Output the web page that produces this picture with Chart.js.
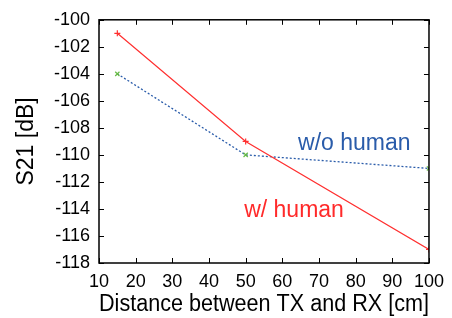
<!DOCTYPE html>
<html>
<head>
<meta charset="utf-8">
<script src="https://cdn.jsdelivr.net/npm/chart.js@4/dist/chart.umd.min.js"></script>
<style>
  html, body { margin: 0; padding: 0; background: #fff; }
  #wrap { width: 452px; height: 318px; }
</style>
</head>
<body>
<div id="wrap"><canvas id="chart" width="452" height="318"></canvas></div>
<script>
// distances [cm]
var distances = [15, 50, 100];
// S21 [dB]
var withHuman = [-101, -109, -117];
var withoutHuman = [-104, -110, -111];

var xTicks = [10, 20, 30, 40, 50, 60, 70, 80, 90, 100];
var yTicks = [-118, -116, -114, -112, -110, -108, -106, -104, -102, -100];

// text labels placed in data units
var labelWo = { text: "w/o human", x: 64.3, y: -109.2 };
var labelW = { text: "w/ human", x: 49.6, y: -114.1 };

function toPoints(xs, ys) {
  return xs.map(function (x, i) { return { x: x, y: ys[i] }; });
}

var FONT = "'Liberation Sans', Arial, sans-serif";

// draws the box and inward ticks like the gnuplot original
var frame = {
  id: "frame",
  afterDraw: function (chart) {
    var ctx = chart.ctx, a = chart.chartArea;
    var xs = chart.scales.x, ys = chart.scales.y;
    var len = 5;
    ctx.save();
    ctx.strokeStyle = "#000";
    ctx.lineWidth = 1;
    ctx.beginPath();
    xTicks.forEach(function (v) {
      var px = Math.round(xs.getPixelForValue(v)) + 0.5;
      ctx.moveTo(px, a.bottom); ctx.lineTo(px, a.bottom - len);
      ctx.moveTo(px, a.top); ctx.lineTo(px, a.top + len);
    });
    yTicks.forEach(function (v) {
      var py = Math.round(ys.getPixelForValue(v)) + 0.5;
      ctx.moveTo(a.left, py); ctx.lineTo(a.left + len, py);
      ctx.moveTo(a.right, py); ctx.lineTo(a.right - len, py);
    });
    ctx.stroke();
    ctx.lineWidth = 1.5;
    ctx.strokeRect(a.left, a.top, a.right - a.left, a.bottom - a.top);

    ctx.font = "23px " + FONT;
    ctx.textAlign = "left";
    ctx.textBaseline = "middle";
    ctx.fillStyle = "#2a5caa";
    ctx.fillText(labelWo.text, xs.getPixelForValue(labelWo.x), ys.getPixelForValue(labelWo.y));
    ctx.fillStyle = "#ff2a2a";
    ctx.fillText(labelW.text, xs.getPixelForValue(labelW.x), ys.getPixelForValue(labelW.y));
    ctx.restore();
  }
};

var ctx = document.getElementById("chart").getContext("2d");
var chart = new Chart(ctx, {
  type: "line",
  data: {
    datasets: [
      {
        label: "w/ human",
        data: toPoints(distances, withHuman),
        borderColor: "#ff3030",
        borderWidth: 1.2,
        pointStyle: "cross",
        pointRadius: 3,
        pointBorderColor: "#ff3030",
        pointBorderWidth: 1.2,
        fill: false,
        tension: 0
      },
      {
        label: "w/o human",
        data: toPoints(distances, withoutHuman),
        borderColor: "#2a5caa",
        borderWidth: 1.3,
        borderDash: [2, 2],
        pointStyle: "crossRot",
        pointRadius: 3,
        pointBorderColor: "#66bb44",
        pointBorderWidth: 1.2,
        fill: false,
        tension: 0
      }
    ]
  },
  options: {
    responsive: false,
    animation: false,
    layout: { padding: { top: 19, right: 20, left: 13, bottom: 0 } },
    plugins: { legend: { display: false }, tooltip: { enabled: false } },
    scales: {
      x: {
        type: "linear",
        min: 10, max: 100,
        afterBuildTicks: function (s) { s.ticks = xTicks.map(function (v) { return { value: v }; }); },
        afterFit: function (s) { s.height = 55; },
        grid: { display: false, drawTicks: false },
        border: { display: false },
        ticks: { color: "#000", font: { family: FONT, size: 18 }, padding: 8, maxRotation: 0, autoSkip: false },
        title: { display: true, text: "Distance between TX and RX [cm]", color: "#000",
                 font: { family: FONT, size: 23 }, padding: { top: 0, bottom: 0 } }
      },
      y: {
        type: "linear",
        min: -118, max: -100,
        afterBuildTicks: function (s) { s.ticks = yTicks.map(function (v) { return { value: v }; }); },
        afterFit: function (s) { s.width = 86; },
        grid: { display: false, drawTicks: false },
        border: { display: false },
        ticks: { color: "#000", font: { family: FONT, size: 18 }, padding: 9, autoSkip: false },
        title: { display: true, text: "S21 [dB]", color: "#000",
                 font: { family: FONT, size: 23 }, padding: { top: 0, bottom: 0 } }
      }
    }
  },
  plugins: [frame]
});
</script>
</body>
</html>
